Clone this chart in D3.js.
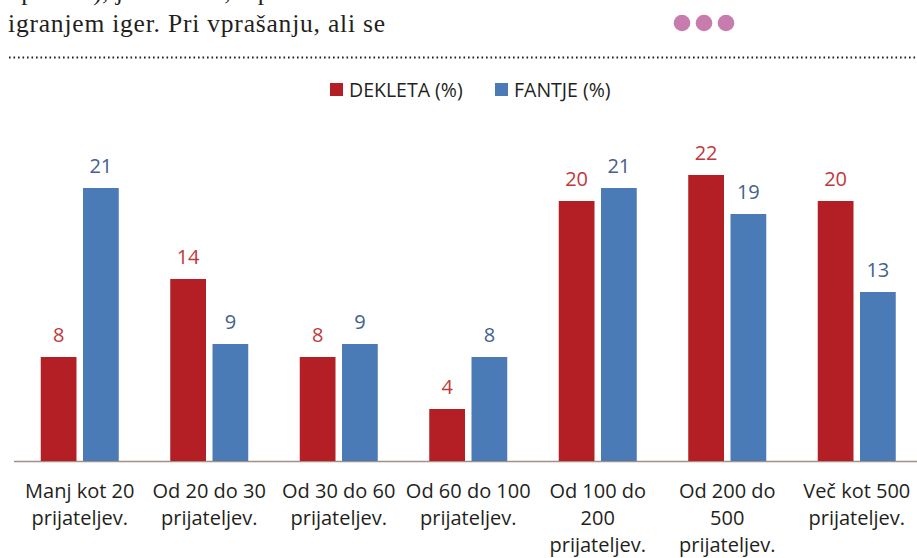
<!DOCTYPE html>
<html><head><meta charset="utf-8">
<script src="https://cdn.jsdelivr.net/npm/d3@7"></script>
<style>body{margin:0;background:#fff}svg{display:block}</style>
</head><body>
<script>
const categories = [
  ["Manj kot 20", "prijateljev."],
  ["Od 20 do 30", "prijateljev."],
  ["Od 30 do 60", "prijateljev."],
  ["Od 60 do 100", "prijateljev."],
  ["Od 100 do", "200", "prijateljev."],
  ["Od 200 do", "500", "prijateljev."],
  ["Več kot 500", "prijateljev."]
];
const dekleta = [8, 14, 8, 4, 20, 22, 20];
const fantje = [21, 9, 9, 8, 21, 19, 13];
const seriesNames = ["DEKLETA (%)", "FANTJE (%)"];
const seriesColors = ["#b31f25", "#4a7bb7"];
const labelColors = ["#c1383a", "#44608f"];

const W = 917, H = 558;
const svg = d3.select("body").append("svg").attr("width", W).attr("height", H);

// article text above (first line is cut off by the top edge in the reference)
svg.append("text").attr("x", 8).attr("y", 0).attr("font-family", "'Liberation Serif', serif")
  .attr("font-size", 25.5).attr("fill", "#231f20").attr("textLength", 362).attr("lengthAdjust", "spacing")
  .text("uporabe), je odvisna, v povezavi s");
svg.append("text").attr("x", 8).attr("y", 32).attr("font-family", "'Liberation Serif', serif")
  .attr("font-size", 25.5).attr("fill", "#231f20").attr("textLength", 377).attr("lengthAdjust", "spacing")
  .text("igranjem iger. Pri vprašanju, ali se");
svg.append("line").attr("x1", 9).attr("x2", W).attr("y1", 57.5).attr("y2", 57.5)
  .attr("stroke", "#231f20").attr("stroke-width", 2).attr("stroke-dasharray", "1.6 2.9");
svg.selectAll("circle.dot").data([0, 1, 2]).join("circle").attr("class", "dot")
  .attr("cx", d => 682 + d * 22).attr("cy", 23).attr("r", 8.3).attr("fill", "#c87cae");

const font = "'Open Sans', Lato, sans-serif";
const y0 = 461;
const y = d3.scaleLinear().domain([0, 21]).range([y0, 188]);
const x = d3.scaleBand().domain(d3.range(categories.length)).range([15, 921.5]);
const sub = d3.scaleBand().domain([0, 1]).range([-39, 39]).paddingInner(0.154);

// axis baseline
svg.append("line").attr("x1", 14).attr("x2", W).attr("y1", y0 + 0.5).attr("y2", y0 + 0.5)
  .attr("stroke", "#a38f84").attr("stroke-width", 1.3);

const data = categories.map((c, i) => ({i, vals: [dekleta[i], fantje[i]]}));
const g = svg.selectAll("g.grp").data(data).join("g").attr("class", "grp")
  .attr("transform", d => `translate(${x(d.i) + x.bandwidth() / 2},0)`);
g.selectAll("rect").data(d => d.vals.map((v, s) => ({v, s}))).join("rect")
  .attr("x", d => sub(d.s)).attr("width", sub.bandwidth())
  .attr("y", d => y(d.v)).attr("height", d => y0 - y(d.v))
  .attr("fill", d => seriesColors[d.s]);
g.selectAll("text.val").data(d => d.vals.map((v, s) => ({v, s}))).join("text").attr("class", "val")
  .attr("x", d => sub(d.s) + sub.bandwidth() / 2).attr("y", d => y(d.v) - 15)
  .attr("text-anchor", "middle").attr("font-family", font).attr("font-size", 20)
  .attr("fill", d => labelColors[d.s]).text(d => d.v);

// category labels
g.append("text").attr("text-anchor", "middle").attr("font-family", font).attr("font-size", 20)
  .attr("fill", "#231f20")
  .selectAll("tspan").data(d => categories[d.i]).join("tspan")
  .attr("x", 0).attr("y", (t, k) => 498 + k * 27).text(t => t);

// legend
const legX = [330, 495];
seriesNames.forEach((n, s) => {
  svg.append("rect").attr("x", legX[s]).attr("y", 83).attr("width", 13).attr("height", 13)
    .attr("fill", seriesColors[s]);
  svg.append("text").attr("x", legX[s] + 19).attr("y", 96.5).attr("font-family", font)
    .attr("font-size", 19.5).attr("fill", "#231f20").text(n);
});
</script>
</body></html>
